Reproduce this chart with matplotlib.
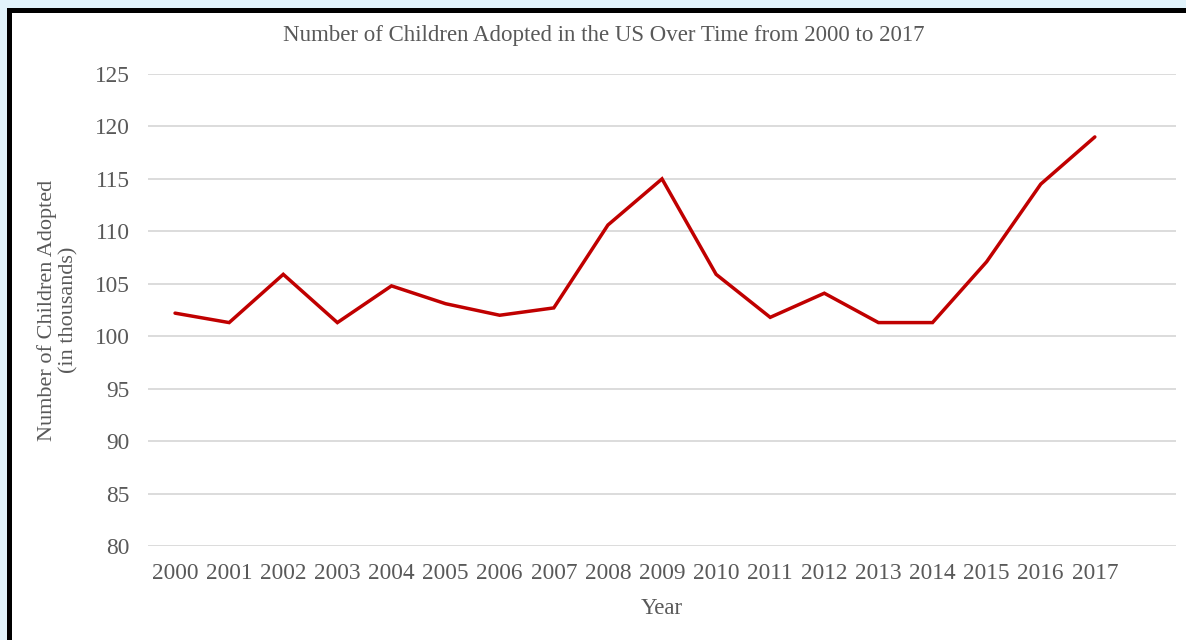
import numpy as np
import matplotlib.pyplot as plt
from matplotlib.patches import Rectangle

years = [str(y) for y in range(2000, 2018)]
adopted = [102.2, 101.3, 105.9, 101.3, 104.8, 103.1, 102.0, 102.7, 110.6,
           115.0, 105.9, 101.8, 104.1, 101.3, 101.3, 107.1, 114.5, 119.0]
yticks = list(range(80, 126, 5))

plt.rcParams['font.family'] = ['Liberation Serif', 'DejaVu Serif']
grey = '#595959'

W, H = 1186, 640
fig = plt.figure(figsize=(W / 100, H / 100), dpi=100, facecolor='#e1f3fb')

# white page with black frame on left/top
fig.patches.append(Rectangle((8.5 / W, -0.1), 1.2, (H - 10.5) / H + 0.1,
                             transform=fig.transFigure, facecolor='white',
                             edgecolor='black', linewidth=3.6, zorder=-10))

ax = fig.add_axes([148 / W, (H - 546) / H, (1176 - 148) / W, (546 - 74) / H])
ax.set_facecolor('none')

x = np.arange(len(years))
ax.plot(x, adopted, color='#c00000', linewidth=2.5, solid_capstyle='round',
        solid_joinstyle='miter', zorder=3)

ax.set_xlim(-0.5, 18.5)
ax.set_ylim(80, 125)
ax.set_yticks(yticks)
ax.set_xticks(x)
ax.set_xticklabels(years)
ax.grid(axis='y', color='#d9d9d9', linewidth=1.3)
ax.set_axisbelow(True)
for s in ax.spines.values():
    s.set_visible(False)
ax.tick_params(length=0, labelsize=16.8, labelcolor=grey)
ax.tick_params(axis='y', pad=13)
ax.tick_params(axis='x', pad=12)

fig.text(604 / W, 1 - 36 / H, 'Number of Children Adopted in the US Over Time from 2000 to 2017',
         ha='center', va='center', fontsize=16.5, color=grey)
ax.set_xlabel('Year', fontsize=16.5, color=grey, labelpad=10)
fig.text(58 / W, 1 - 310 / H, 'Number of Children Adopted\n(in thousands)', rotation=90,
         ha='center', va='center', fontsize=16, color=grey, linespacing=1.15)

fig.savefig('out.png', dpi=100, facecolor=fig.get_facecolor())
